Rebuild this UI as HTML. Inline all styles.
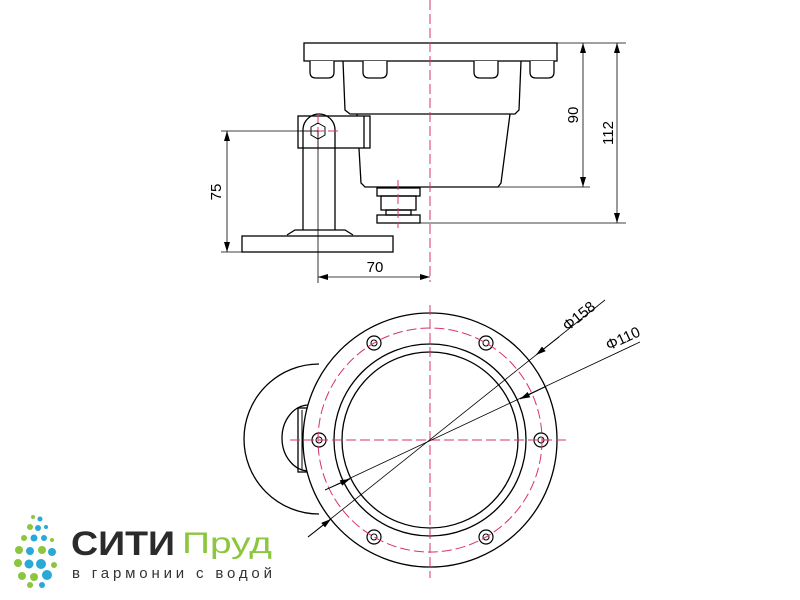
<!DOCTYPE html>
<html><head><meta charset="utf-8"><style>body{margin:0;background:#fff}svg{display:block}</style></head><body>
<svg width="800" height="600" viewBox="0 0 800 600" xmlns="http://www.w3.org/2000/svg" font-family="Liberation Sans, DejaVu Sans, sans-serif">
<defs><marker id="a" markerWidth="10" markerHeight="6" refX="10" refY="3" orient="auto-start-reverse" markerUnits="userSpaceOnUse"><path d="M0,0 L10,3 L0,6z" fill="#000"/></marker></defs>
<g stroke="#000" fill="none" stroke-width="1.3">
<!-- top view -->
<rect x="304" y="43" width="253" height="18" fill="#fff"/>
<g fill="#fff"><path d="M310,61 v11 q0,6 6,6 h12 q6,0 6,-6 v-11"/><path d="M363,61 v11 q0,6 6,6 h12 q6,0 6,-6 v-11"/><path d="M474,61 v11 q0,6 6,6 h12 q6,0 6,-6 v-11"/><path d="M530,61 v11 q0,6 6,6 h12 q6,0 6,-6 v-11"/></g>
<path d="M343,61 L345,110 L350,114 L515,114 L519,110 L521,61"/>
<path d="M357,114 L361,183 L365,187 L498,187 L501,183 L510,114"/>
<rect x="377" y="188" width="43" height="8"/><rect x="381" y="196" width="35" height="14"/><rect x="386" y="210" width="25" height="5"/><rect x="377" y="215" width="43" height="8"/>
<rect x="298" y="116" width="72" height="32" fill="#fff"/>
<line x1="364" y1="116" x2="364" y2="148"/>
<path d="M303,230 V130 a16,16 0 0 1 32,0 V230"/>
<polygon points="318,123 325,127 325,135 318,139 311,135 311,127" stroke-width="1"/>
<path d="M287,235 L295,230 L345,230 L353,235"/>
<rect x="242" y="236" width="151" height="16"/>
<!-- bottom view -->
<path d="M319,364 A75,75 0 1 0 319,514"/>
<path d="M309,405 A27,33 0 0 0 309,471"/>
<rect x="298" y="408" width="10" height="64"/>
<line x1="302" y1="410" x2="302" y2="470" stroke-width="1"/>
<circle cx="430" cy="440" r="127" fill="#fff"/>
<circle cx="430" cy="440" r="96"/><circle cx="430" cy="440" r="88"/>
<g fill="#fff" stroke-width="1.2">
<circle cx="541" cy="440" r="7"/><circle cx="486" cy="343" r="7"/><circle cx="374" cy="343" r="7"/><circle cx="319" cy="440" r="7"/><circle cx="374" cy="537" r="7"/><circle cx="486" cy="537" r="7"/></g>
<g stroke-width="1"><circle cx="541" cy="440" r="3"/><circle cx="486" cy="343" r="3"/><circle cx="374" cy="343" r="3"/><circle cx="319" cy="440" r="3"/><circle cx="374" cy="537" r="3"/><circle cx="486" cy="537" r="3"/></g>
</g>
<g stroke="#d6336c" stroke-width="1" fill="none" stroke-dasharray="10,4">
<line x1="430" y1="0" x2="430" y2="282"/>
<line x1="398" y1="180" x2="398" y2="228"/>
<line x1="318" y1="113" x2="318" y2="150"/><line x1="300" y1="131" x2="338" y2="131"/>
<circle cx="430" cy="440" r="112"/>
<line x1="430" y1="305" x2="430" y2="578"/><line x1="290" y1="440" x2="570" y2="440"/>
</g>
<!-- dims -->
<g stroke="#000" stroke-width="0.8" fill="none">
<line x1="318" y1="131" x2="221" y2="131"/><line x1="242" y1="252" x2="221" y2="252"/>
<line x1="227" y1="131" x2="227" y2="252" marker-start="url(#a)" marker-end="url(#a)"/>
<line x1="318" y1="131" x2="318" y2="283"/>
<line x1="318" y1="277" x2="430" y2="277" marker-start="url(#a)" marker-end="url(#a)"/>
<line x1="557" y1="43" x2="626" y2="43"/><line x1="498" y1="187" x2="590" y2="187"/><line x1="420" y1="223" x2="626" y2="223"/>
<line x1="583" y1="43" x2="583" y2="187" marker-start="url(#a)" marker-end="url(#a)"/>
<line x1="617" y1="43" x2="617" y2="223" marker-start="url(#a)" marker-end="url(#a)"/>
<line x1="308" y1="537" x2="605" y2="300"/>
<line x1="308" y1="537" x2="331" y2="519" marker-end="url(#a)"/>
<line x1="559" y1="337" x2="536" y2="355" marker-end="url(#a)"/>
<line x1="325" y1="490" x2="640" y2="342"/>
<line x1="325" y1="490" x2="350" y2="479" marker-end="url(#a)"/>
<line x1="545" y1="387" x2="520" y2="399" marker-end="url(#a)"/>
</g>
<g font-size="15" fill="#000">
<text x="375" y="272" text-anchor="middle">70</text>
<text transform="translate(221,192) rotate(-90)" text-anchor="middle">75</text>
<text transform="translate(578,115) rotate(-90)" text-anchor="middle">90</text>
<text transform="translate(613,133) rotate(-90)" text-anchor="middle">112</text>
<text transform="translate(582,320) rotate(-39)" text-anchor="middle">Φ158</text>
<text transform="translate(625,343) rotate(-25)" text-anchor="middle">Φ110</text>
</g>
<!-- logo -->
<g>
<circle cx="33" cy="517" r="2" fill="#8cc63f"/><circle cx="40" cy="519" r="2.5" fill="#29a9d6"/>
<circle cx="30" cy="527" r="3" fill="#8cc63f"/><circle cx="38" cy="528" r="3" fill="#29a9d6"/><circle cx="46" cy="527" r="2" fill="#29a9d6"/>
<circle cx="24" cy="538" r="3" fill="#8cc63f"/><circle cx="34" cy="538" r="3.5" fill="#29a9d6"/><circle cx="44" cy="538" r="3" fill="#29a9d6"/><circle cx="52" cy="540" r="2" fill="#8cc63f"/>
<circle cx="19" cy="550" r="4" fill="#8cc63f"/><circle cx="30" cy="551" r="4" fill="#29a9d6"/><circle cx="42" cy="550" r="4" fill="#8cc63f"/><circle cx="52" cy="552" r="4" fill="#29a9d6"/>
<circle cx="18" cy="563" r="4" fill="#8cc63f"/><circle cx="29" cy="564" r="4.5" fill="#29a9d6"/><circle cx="41" cy="564" r="5" fill="#29a9d6"/><circle cx="54" cy="565" r="3" fill="#8cc63f"/>
<circle cx="22" cy="576" r="4" fill="#8cc63f"/><circle cx="34" cy="577" r="4" fill="#8cc63f"/><circle cx="47" cy="575" r="5" fill="#29a9d6"/>
<circle cx="30" cy="585" r="3" fill="#8cc63f"/><circle cx="42" cy="585" r="3" fill="#29a9d6"/>
</g>
<text x="71" y="555" font-size="34" font-weight="bold" fill="#2b2b2b" textLength="104" lengthAdjust="spacingAndGlyphs">СИТИ</text>
<text x="182" y="553" font-size="30" fill="#8cc63f" textLength="90" lengthAdjust="spacingAndGlyphs">Пруд</text>
<text x="72" y="578" font-size="15" fill="#333" textLength="200" lengthAdjust="spacing">в гармонии с водой</text>
</svg>
</body></html>
